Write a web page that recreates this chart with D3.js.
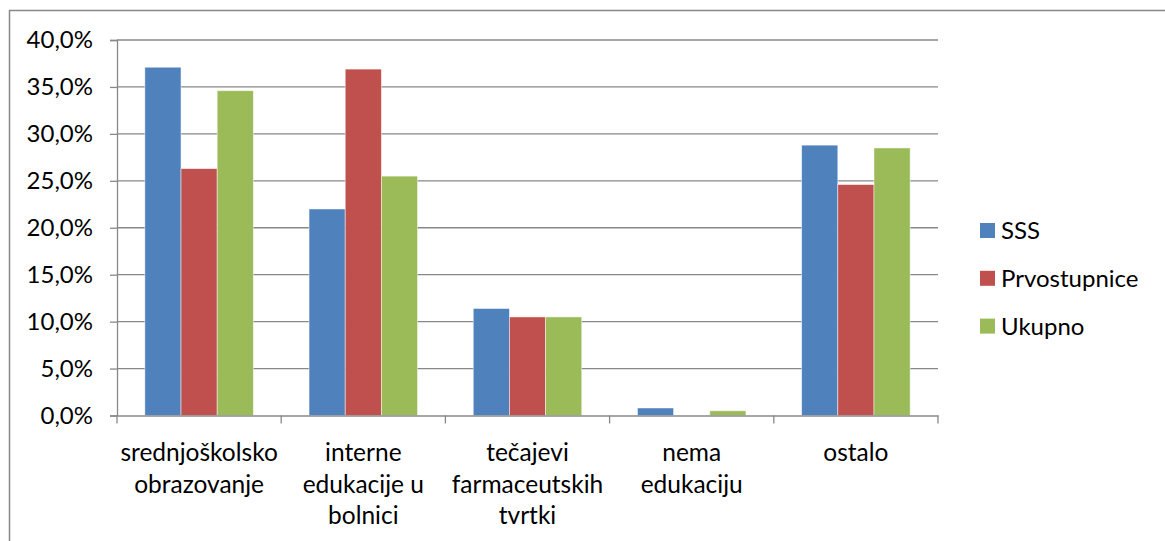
<!DOCTYPE html>
<html>
<head>
<meta charset="utf-8">
<script src="https://cdn.jsdelivr.net/npm/d3@7"></script>
<style>
  body { margin: 0; background: #fff; overflow: hidden; }
  svg { display: block; font-family: Lato, "Open Sans", sans-serif; }
</style>
</head>
<body>
<script>
// Data
const categories = ['srednjoškolsko obrazovanje', 'interne edukacije u bolnici', 'tečajevi farmaceutskih tvrtki', 'nema edukaciju', 'ostalo'];
const catLines = [
  ['srednjoškolsko', 'obrazovanje'],
  ['interne', 'edukacije u', 'bolnici'],
  ['tečajevi', 'farmaceutskih', 'tvrtki'],
  ['nema', 'edukaciju'],
  ['ostalo']
];
const seriesNames = ['SSS', 'Prvostupnice', 'Ukupno'];
const sss = [37.1, 22.0, 11.4, 0.8, 28.8];
const prvostupnice = [26.3, 36.9, 10.5, 0.0, 24.6];
const ukupno = [34.6, 25.5, 10.5, 0.5, 28.5];
const yTicks = [0, 5, 10, 15, 20, 25, 30, 35, 40];
const colors = ['#4F81BD', '#C0504D', '#9BBB59'];

const WIDTH = 1165, HEIGHT = 541;
const PLOT = {left: 117, right: 938, top: 40, bottom: 415.5};

const svg = d3.select('body').append('svg')
  .attr('width', WIDTH)
  .attr('height', HEIGHT);

// outer chart border (right and bottom edges fall outside the picture)
svg.append('rect')
  .attr('x', 9.5).attr('y', 10.5)
  .attr('width', 1170).attr('height', 545)
  .attr('fill', 'none')
  .attr('stroke', '#888')
  .attr('stroke-width', 1.5);

const x0 = d3.scaleBand()
  .domain(categories)
  .range([PLOT.left, PLOT.right]);

const x1 = d3.scaleBand()
  .domain(seriesNames)
  .range([0, x0.bandwidth()])
  .paddingOuter(0.77);

const y = d3.scaleLinear()
  .domain([0, 40])
  .range([PLOT.bottom, PLOT.top]);

// gridlines
svg.append('g')
  .selectAll('line')
  .data(yTicks.filter(d => d > 0))
  .enter().append('line')
  .attr('x1', PLOT.left).attr('x2', PLOT.right)
  .attr('y1', d => y(d)).attr('y2', d => y(d))
  .attr('stroke', '#888')
  .attr('stroke-width', 1.3);

// bars
const table = categories.map((c, i) => ({
  cat: c,
  values: [sss[i], prvostupnice[i], ukupno[i]]
}));

const groups = svg.append('g')
  .selectAll('g')
  .data(table)
  .enter().append('g')
  .attr('transform', d => 'translate(' + x0(d.cat) + ',0)');

groups.selectAll('rect')
  .data(d => d.values.map((v, j) => ({name: seriesNames[j], value: v, color: colors[j]})))
  .enter().append('rect')
  .filter(d => d.value > 0)
  .attr('x', d => x1(d.name))
  .attr('y', d => y(d.value))
  .attr('width', x1.bandwidth())
  .attr('height', d => y(0) - y(d.value))
  .attr('fill', d => d.color)
  .attr('stroke', 'rgba(255,255,255,0.6)')
  .attr('stroke-width', 0.8);

// y axis
const yAxis = d3.axisLeft(y)
  .tickValues(yTicks)
  .tickSize(7)
  .tickPadding(17)
  .tickFormat(d => d3.format('.1f')(d).replace('.', ',') + '%');

const yg = svg.append('g')
  .attr('transform', 'translate(' + PLOT.left + ',0)')
  .call(yAxis);
yg.select('.domain').attr('stroke', '#888').attr('stroke-width', 1.3);
yg.selectAll('.tick line').attr('stroke', '#888').attr('stroke-width', 1.3);
yg.selectAll('.tick text')
  .attr('fill', '#000')
  .style('font-size', '24px')
  .style('font-family', 'Lato, sans-serif');

// x axis
const xAxis = d3.axisBottom(x0).tickSize(0).tickFormat('');
const xg = svg.append('g')
  .attr('transform', 'translate(0,' + PLOT.bottom + ')')
  .call(xAxis);
xg.select('.domain').attr('stroke', '#888').attr('stroke-width', 1.3);

// category boundary ticks
const bounds = categories.map(c => x0(c)).concat([PLOT.right]);
xg.selectAll('.bound')
  .data(bounds)
  .enter().append('line')
  .attr('class', 'bound')
  .attr('x1', d => d).attr('x2', d => d)
  .attr('y1', 0).attr('y2', 8)
  .attr('stroke', '#888')
  .attr('stroke-width', 1.3);

// category labels
const labels = svg.append('g')
  .selectAll('text')
  .data(categories)
  .enter().append('text')
  .attr('text-anchor', 'middle')
  .attr('x', d => x0(d) + x0.bandwidth() / 2)
  .attr('y', 461)
  .style('font-size', '24.5px')
  .attr('fill', '#000');

labels.each(function(d, i) {
  d3.select(this).selectAll('tspan')
    .data(catLines[i])
    .enter().append('tspan')
    .attr('x', x0(d) + x0.bandwidth() / 2)
    .attr('dy', (t, k) => k === 0 ? 0 : 31.5)
    .text(t => t);
});

// legend
const legend = svg.append('g')
  .attr('transform', 'translate(980,231)');

const items = legend.selectAll('g')
  .data(seriesNames)
  .enter().append('g')
  .attr('transform', (d, i) => 'translate(0,' + (i * 47.8) + ')');

items.append('rect')
  .attr('x', 0).attr('y', -8)
  .attr('width', 15).attr('height', 15)
  .attr('fill', (d, i) => colors[i]);

items.append('text')
  .attr('x', 21)
  .attr('y', 0)
  .attr('dy', '0.35em')
  .style('font-size', '24px')
  .attr('fill', '#000')
  .text(d => d);
</script>
</body>
</html>
